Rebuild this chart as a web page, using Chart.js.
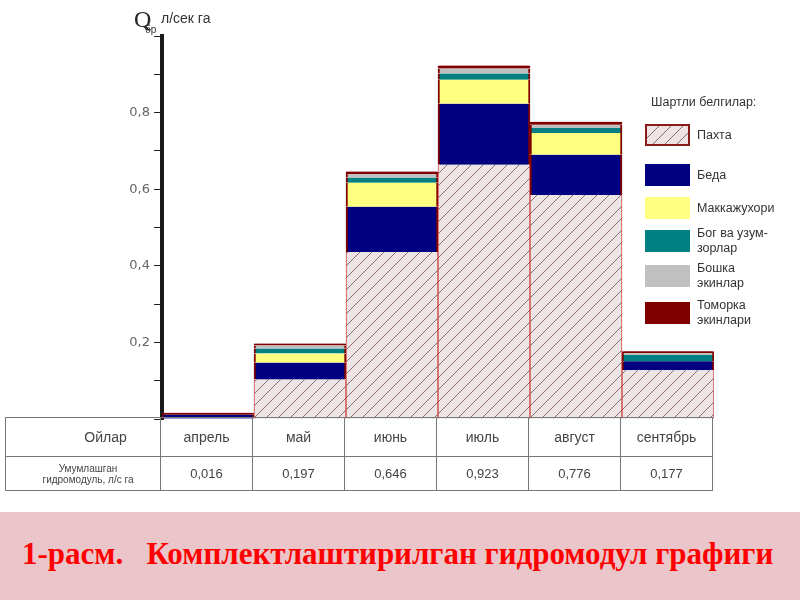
<!DOCTYPE html>
<html>
<head>
<meta charset="utf-8">
<script src="https://cdn.jsdelivr.net/npm/chart.js@4.4.0/dist/chart.umd.min.js"></script>
<style>
  body { margin: 0; background: #fff; font-family: "Liberation Sans", Arial, sans-serif; }
  #wrap { position: relative; width: 800px; height: 600px; overflow: hidden; background: #fff; }
  #myChart { position: absolute; left: 0; top: 0; }
  .abs { position: absolute; white-space: nowrap; }
  #legend .sw { position: absolute; left: 645px; width: 45px; height: 22px; }
  #legend .lb { position: absolute; left: 697px; font-size: 12.5px; color: #333; line-height: 15px; }
  #tbl { position: absolute; left: 5px; top: 417px; border-collapse: collapse; table-layout: fixed; }
  #tbl td { border: 1px solid #777; text-align: center; color: #444; padding: 0; }
  #tbl tr.r1 td { height: 38px; font-size: 14px; }
  #tbl tr.r2 td { height: 33px; font-size: 13px; }
  #band { position: absolute; left: 0; top: 512px; width: 800px; height: 88px;
          background: #eac5c9; }
  #title { position: absolute; left: 22px; top: 24px; font-family: "Liberation Serif", "Times New Roman", serif;
           font-weight: bold; font-size: 31px; color: #ff0000; white-space: pre; }
</style>
</head>
<body>
<div id="wrap">
  <canvas id="myChart" width="800" height="600"></canvas>

  <div class="abs" style="left:134px; top:6px; font-family:'Liberation Serif',serif; font-size:24px; color:#222;">Q</div>
  <div class="abs" style="left:145px; top:24px; font-size:10px; color:#333;">бр</div>
  <div class="abs" style="left:161px; top:10px; font-size:14px; color:#333;">л/сек га</div>

  <div id="legend"></div>
  <table id="tbl"></table>

  <div id="band"><div id="title">1-расм.   Комплектлаштирилган гидромодул графиги</div></div>
</div>

<script>
// months
const months = ['апрель', 'май', 'июнь', 'июль', 'август', 'сентябрь']
// totals from the table (л/с га)
const totals = ['0,016', '0,197', '0,646', '0,923', '0,776', '0,177']

// stacked parts
const pakhta    = [0,     0.103, 0.436, 0.664, 0.585, 0.127]
const beda      = [0.011, 0.044, 0.118, 0.159, 0.105, 0.024]
const makka     = [0,     0.024, 0.063, 0.063, 0.057, 0]
const bog       = [0,     0.013, 0.013, 0.016, 0.013, 0.016]
const boshka    = [0,     0.008, 0.010, 0.013, 0.008, 0.005]
const tomorka   = [0.005, 0.005, 0.006, 0.008, 0.008, 0.005]

const yTicks = [0.2, 0.4, 0.6, 0.8]

// hatch for Пахта
function makeHatch() {
    const c = document.createElement('canvas')
    c.width = 12
    c.height = 12
    const g = c.getContext('2d')
    g.fillStyle = '#ede5e5'
    g.fillRect(0, 0, 12, 12)
    g.strokeStyle = '#8c6c6c'
    g.lineWidth = 1
    g.beginPath()
    g.moveTo(0, 12); g.lineTo(12, 0)
    g.moveTo(-6, 6); g.lineTo(6, -6)
    g.moveTo(6, 18); g.lineTo(18, 6)
    g.stroke()
    return c
}
const hatchCanvas = makeHatch()
const ctx = document.getElementById('myChart').getContext('2d')
const hatch = ctx.createPattern(hatchCanvas, 'repeat')

const side = {left: 2, right: 2, top: 0, bottom: 0}

const myChart = new Chart(ctx, {
    type: 'bar',
    data: {
        labels: months,
        datasets: [
            {label: 'Пахта', data: pakhta, backgroundColor: hatch, borderColor: '#c44',
             borderWidth: {left: 1, right: 1, top: 0, bottom: 0}, borderSkipped: false},
            {label: 'Беда', data: beda, backgroundColor: '#000080', borderColor: '#800000', borderWidth: side, borderSkipped: false},
            {label: 'Маккажухори', data: makka, backgroundColor: '#ffff80', borderColor: '#800000', borderWidth: side, borderSkipped: false},
            {label: 'Бог ва узум-зорлар', data: bog, backgroundColor: '#008080', borderColor: '#800000', borderWidth: side, borderSkipped: false},
            {label: 'Бошка экинлар', data: boshka, backgroundColor: '#c0c0c0', borderColor: '#800000', borderWidth: side, borderSkipped: false},
            {label: 'Томорка экинлари', data: tomorka, backgroundColor: '#800000', borderColor: '#800000', borderWidth: side, borderSkipped: false}
        ]
    },
    options: {
        responsive: false,
        animation: false,
        devicePixelRatio: 1,
        layout: {padding: {left: 122, top: 36, right: 86, bottom: 181}},
        plugins: {legend: {display: false}, tooltip: {enabled: false}},
        datasets: {bar: {categoryPercentage: 1, barPercentage: 1}},
        scales: {
            x: {stacked: true, display: false},
            y: {
                stacked: true,
                min: 0,
                max: 1,
                afterFit: (s) => { s.width = 40 },
                ticks: {
                    stepSize: 0.1,
                    padding: 4,
                    color: '#666',
                    font: {size: 13, family: 'DejaVu Sans'},
                    callback: (v) => yTicks.some(t => Math.abs(t - v) < 1e-6) ? v.toFixed(1).replace('.', ',') : ''
                },
                grid: {drawOnChartArea: false, drawTicks: true, tickLength: 8, color: '#222'},
                border: {display: true, color: '#1a1a1a', width: 4}
            }
        }
    }
})

// legend
const legendItems = [
    {text: 'Пахта', top: 124},
    {text: 'Беда', top: 164},
    {text: 'Маккажухори', top: 197},
    {text: 'Бог ва узум-<br>зорлар', top: 230},
    {text: 'Бошка<br>экинлар', top: 265},
    {text: 'Томорка<br>экинлари', top: 302}
]
const lg = document.getElementById('legend')
let lhtml = '<div class="abs" style="left:651px; top:95px; font-size:12.5px; color:#333;">Шартли белгилар:</div>'
legendItems.forEach((it, i) => {
    const ds = myChart.data.datasets[i]
    let bg = ds.backgroundColor
    if (i === 0) bg = 'url(' + hatchCanvas.toDataURL() + ')'
    const border = i === 0 ? 'border:2px solid #8b1a1a; box-sizing:border-box;' : ''
    lhtml += '<div class="sw" style="top:' + it.top + 'px; background:' + bg + ';' + border + '"></div>'
    const lines = it.text.split('<br>').length
    const ty = it.top + 11 - lines * 7.5
    lhtml += '<div class="lb" style="top:' + ty + 'px;">' + it.text + '</div>'
})
lg.innerHTML = lhtml

// table aligned to the bars
const xs = myChart.scales.x
const colW = (xs.right - xs.left) / months.length
const firstW = xs.left - 5 - 2
let th = '<colgroup><col style="width:' + firstW + 'px">'
months.forEach(() => { th += '<col style="width:' + colW + 'px">' })
th += '</colgroup>'
th += '<tr class="r1"><td style="padding-left:45px; font-size:14px;">Ойлар</td>'
months.forEach(m => { th += '<td>' + m + '</td>' })
th += '</tr><tr class="r2"><td style="font-size:10px; line-height:11px; padding-left:10px;">Умумлашган<br>гидромодуль, л/с га</td>'
totals.forEach(t => { th += '<td>' + t + '</td>' })
th += '</tr>'
const tbl = document.getElementById('tbl')
tbl.style.width = (firstW + colW * months.length) + 'px'
tbl.innerHTML = th
</script>
</body>
</html>
